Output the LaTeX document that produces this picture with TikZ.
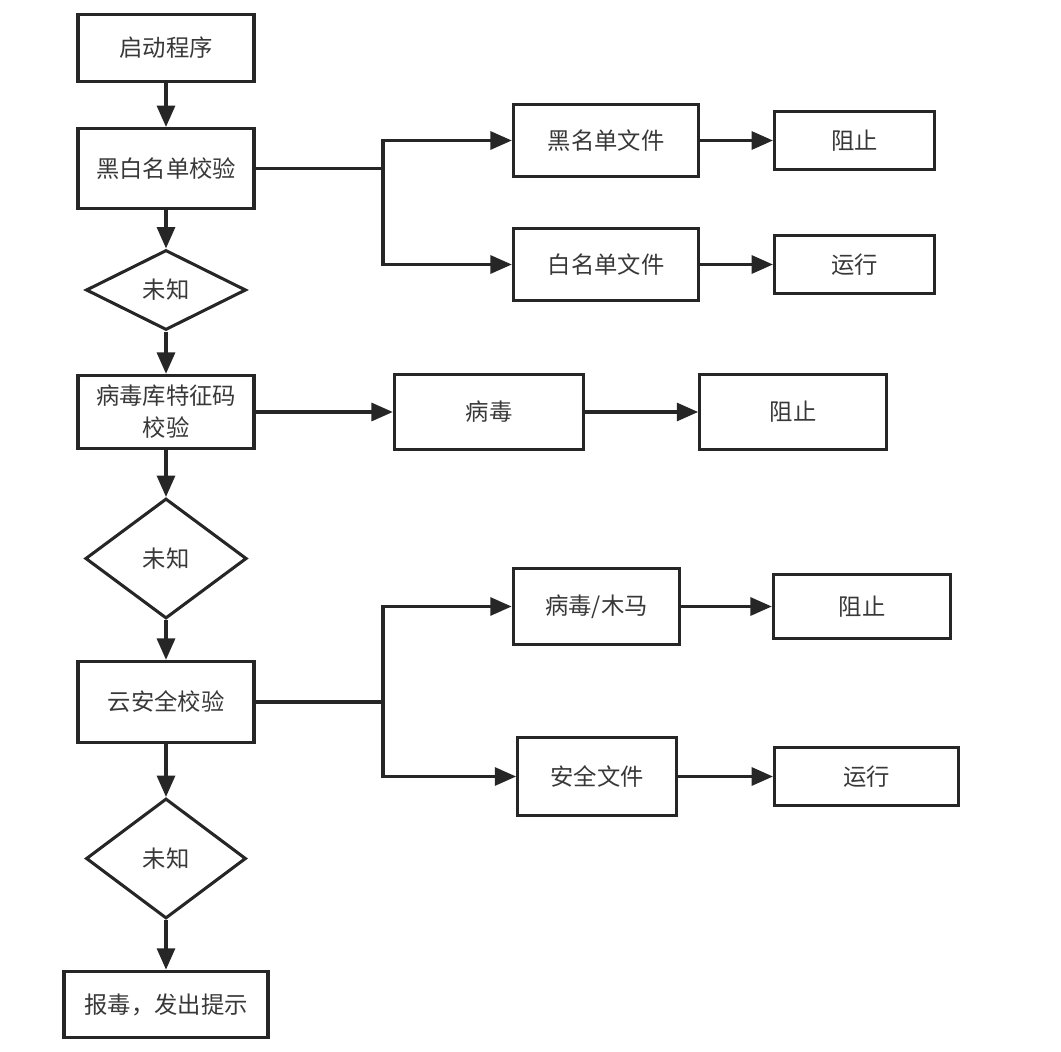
\documentclass[tikz,border=0pt]{standalone}
\usepackage{fontspec}
\setmainfont{Noto Sans CJK SC}
\usepackage{tikz}
\usetikzlibrary{shapes.geometric, arrows.meta}

\tikzset{
    box/.style 2 args={rectangle, draw, line width=2.3pt, minimum width=#1, minimum height=#2, inner sep=0pt, align=center, text=black!78},
    decision/.style 2 args={diamond, draw, line width=2.3pt, minimum width=#1, minimum height=#2, inner sep=0pt, text=black!78},
    arr/.style={line width=2.3pt, -{Triangle[length=16pt, width=13.5pt]}},
    line/.style={line width=2.3pt}
}

\begin{document}
\begin{tikzpicture}[x=0.75pt, y=-0.75pt, font=\fontsize{17.5}{24}\selectfont, color=black!85]
        \useasboundingbox (0, 0) rectangle (1061, 1052);

        % main column
        \node[box={132pt}{50pt}] (start) at (166, 48) {启动程序};
        \node[box={132pt}{60pt}] (bw) at (166, 168.5) {黑白名单校验};
        \node[decision={120pt}{60pt}] (unk1) at (166, 290) {未知};
        \node[box={132pt}{55pt}] (vdb) at (166, 412) {病毒库特征码\\校验};
        \node[decision={121pt}{90pt}] (unk2) at (166, 558.5) {未知};
        \node[box={132pt}{61pt}] (cloud) at (166, 702) {云安全校验};
        \node[decision={120pt}{90pt}] (unk3) at (166, 858.5) {未知};
        \node[box={153pt}{50pt}] (report) at (166, 1004.5) {报毒，发出提示};
        \draw[arr] (start) -- (bw);
        \draw[arr] (bw) -- (unk1);
        \draw[arr] (unk1) -- (vdb);
        \draw[arr] (vdb) -- (unk2);
        \draw[arr] (unk2) -- (cloud);
        \draw[arr] (cloud) -- (unk3);
        \draw[arr] (unk3) -- (report);

        % black / white list
        \node[box={139pt}{54pt}] (blackf) at (606, 140.5) {黑名单文件};
        \node[box={120pt}{43pt}] (block1) at (854.5, 140.5) {阻止};
        \node[box={139pt}{54pt}] (whitef) at (606, 264.5) {白名单文件};
        \node[box={120pt}{44pt}] (run1) at (854.5, 264.5) {运行};
        \coordinate (br1) at (383, 168.5);
        \draw[line] (bw) -- (br1);
        \draw[arr] (br1) |- (blackf);
        \draw[arr] (br1) |- (whitef);
        \draw[arr] (blackf) -- (block1);
        \draw[arr] (whitef) -- (run1);

        % virus signatures
        \node[box={142pt}{56pt}] (virus) at (489, 412) {病毒};
        \node[box={140pt}{56pt}] (block2) at (793, 412) {阻止};
        \draw[arr] (vdb) -- (virus);
        \draw[arr] (virus) -- (block2);

        % cloud check
        \node[box={125pt}{57pt}] (trojan) at (596.5, 606.5) {病毒/木马};
        \node[box={133pt}{48pt}] (block3) at (862, 606.5) {阻止};
        \node[box={119pt}{59pt}] (safef) at (597, 776.5) {安全文件};
        \node[box={138pt}{43pt}] (run2) at (866.5, 776.5) {运行};
        \coordinate (br2) at (383, 702);
        \draw[line] (cloud) -- (br2);
        \draw[arr] (br2) |- (trojan);
        \draw[arr] (br2) |- (safef);
        \draw[arr] (trojan) -- (block3);
        \draw[arr] (safef) -- (run2);
\end{tikzpicture}
\end{document}
